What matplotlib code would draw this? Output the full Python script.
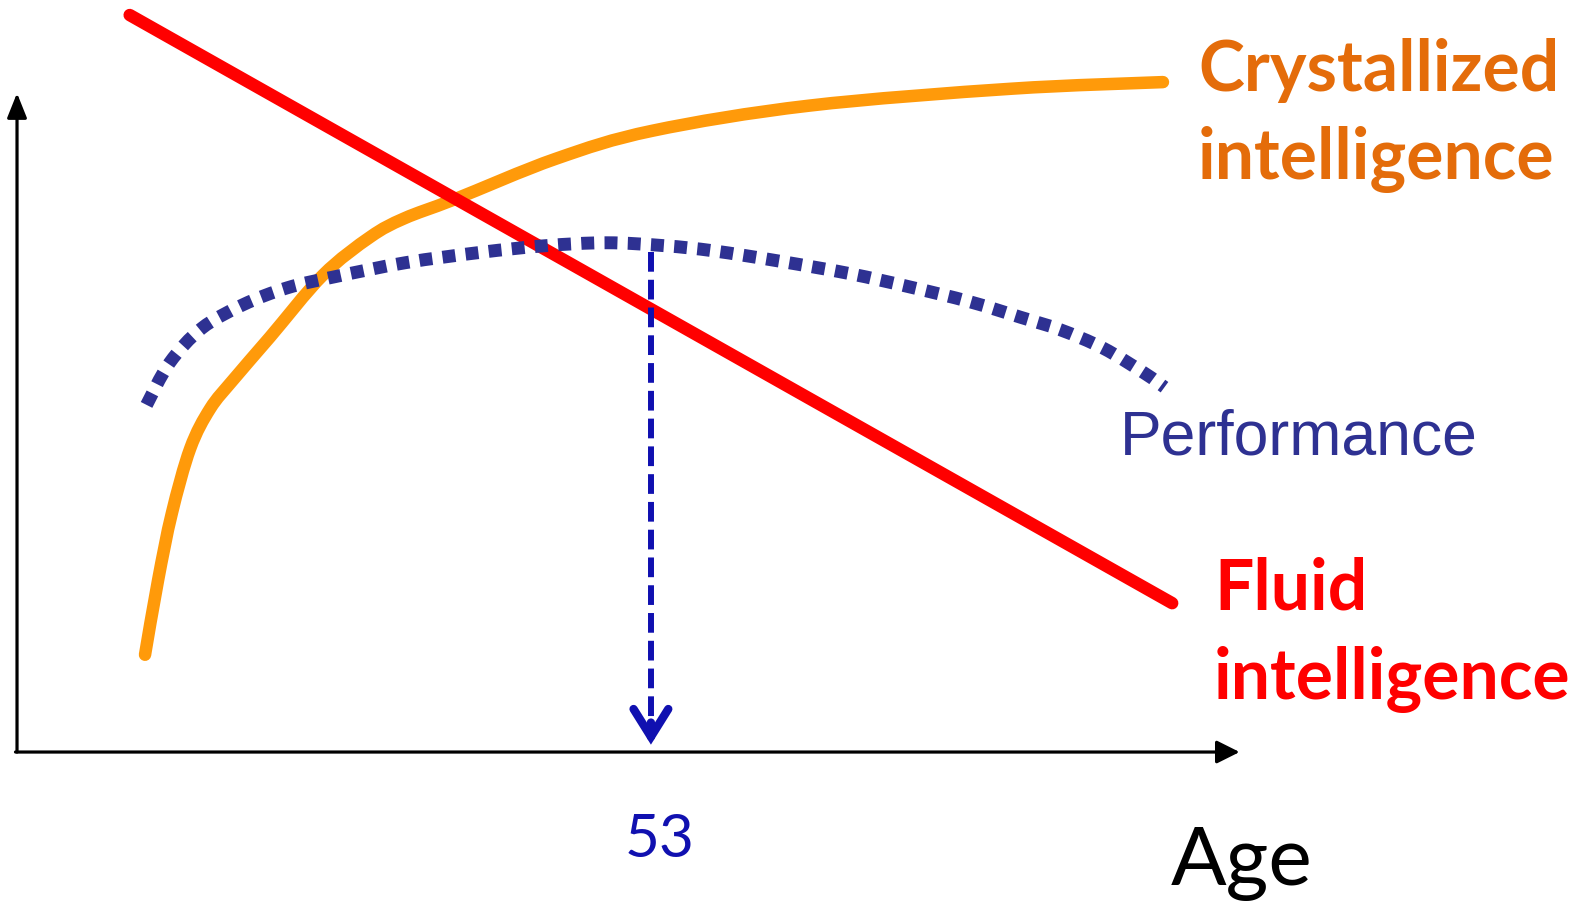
import matplotlib
matplotlib.use("Agg")
import matplotlib.pyplot as plt
from matplotlib.path import Path
from matplotlib.patches import PathPatch
import numpy as np

W, H, DPI = 1585, 911, 100

# Fluid intelligence: a steady decline with age
fluid_age = [19, 87]
fluid_level = [100, 20.2]

# Crystallized intelligence: fast early rise, then a slow climb
cryst_age = [20, 20.85, 21.75, 22.95, 24.25, 25.75, 28.15, 31.6, 34.7,
             36.9, 40.2, 46.8, 53.1, 63.3, 76.5, 86.4]
cryst_level = [13.2, 23.3, 32.4, 41.2, 46.6, 50.5, 56.3, 64.7, 69.9,
               72.4, 75.0, 80.5, 84.3, 87.7, 90.0, 90.9]

# Overall performance: rises, peaks in midlife, then falls
perf_age = [20.1, 21.6, 23.7, 26.4, 29.3, 32.4, 37.0, 41.9, 46.1, 50.1,
            53.9, 57.1, 61.4, 66.0, 69.9, 73.8, 77.1, 79.7, 82.5, 85.2, 86.5]
perf_level = [47.1, 52.8, 57.5, 60.7, 63.0, 64.5, 66.4, 67.8, 68.7, 69.1,
              68.7, 68.0, 66.6, 64.9, 63.1, 61.1, 59.0, 57.3, 54.8, 51.4, 49.5]

PEAK_AGE = 53

labels_cryst = ["Crystallized", "intelligence"]
labels_fluid = ["Fluid", "intelligence"]
label_perf = "Performance"
label_x = "Age"

ORANGE_LINE = "#FF9A0A"
ORANGE_TEXT = "#E46C0A"
RED = "#FF0000"
NAVY = "#2E3192"
BLUE = "#1010B0"

fig = plt.figure(figsize=(W / DPI, H / DPI), dpi=DPI)
ax = fig.add_axes([0, 0, 1, 1])
ax.set_xlim(10.54, 113.93)
ax.set_ylim(-21.57, 102.04)
ax.axis("off")


def smooth_path(xs, ys):
    """Cubic Bezier path passing through every (x, y) point (Catmull-Rom)."""
    p = np.column_stack([xs, ys]).astype(float)
    ext = np.vstack([p[0], p, p[-1]])
    verts = [p[0]]
    codes = [Path.MOVETO]
    for i in range(1, len(ext) - 2):
        p0, p1, p2, p3 = ext[i - 1], ext[i], ext[i + 1], ext[i + 2]
        verts += [p1 + (p2 - p0) / 6, p2 - (p3 - p1) / 6, p2]
        codes += [Path.CURVE4] * 3
    return Path(verts, codes)


# Axes drawn as arrows
axis_age = 11.65
ax.annotate("", xy=(axis_age, 89.4), xytext=(axis_age, 0),
            arrowprops=dict(arrowstyle="-|>,head_length=1.5,head_width=0.6",
                            lw=2.3, color="black", shrinkA=0, shrinkB=0,
                            mutation_scale=10))
ax.annotate("", xy=(91.4, 0), xytext=(axis_age - 0.1, 0),
            arrowprops=dict(arrowstyle="-|>,head_length=1.4,head_width=0.7",
                            lw=2.3, color="black", shrinkA=0, shrinkB=0,
                            mutation_scale=10))

ax.add_patch(PathPatch(smooth_path(cryst_age, cryst_level), fill=False,
                       edgecolor=ORANGE_LINE, lw=9, capstyle="round",
                       joinstyle="round", zorder=2))
ax.plot(fluid_age, fluid_level, color=RED, lw=9,
        solid_capstyle="round", zorder=3)
ax.add_patch(PathPatch(smooth_path(perf_age, perf_level), fill=False,
                       edgecolor=NAVY, lw=9.3, linestyle=(0, (1, 0.8)),
                       capstyle="butt", zorder=4))

# Dashed drop line from the performance peak to the age axis
peak_level = np.interp(PEAK_AGE, perf_age, perf_level) - 1.0
tip_level = 1.0
ax.plot([PEAK_AGE, PEAK_AGE], [peak_level, tip_level + 3], color=BLUE,
        lw=4.3, linestyle=(0, (3.3, 1.35)), dash_capstyle="butt", zorder=5)
ax.annotate("", xy=(PEAK_AGE, tip_level), xytext=(PEAK_AGE, tip_level + 3),
            arrowprops=dict(arrowstyle="->,head_length=2.0,head_width=1.25",
                            lw=6, color=BLUE, shrinkA=0, shrinkB=0,
                            mutation_scale=10, capstyle="round",
                            joinstyle="miter"), zorder=5)

renderer = fig.canvas.get_renderer()


def fit_width(t, width_px):
    w = t.get_window_extent(renderer=renderer).width
    t.set_fontsize(t.get_fontsize() * width_px / w)
    return t.get_fontsize()


def put(x_px, base_px, s, **kw):
    return fig.text(x_px / W, 1 - base_px / H, s, va="baseline", ha="left", **kw)


bold = dict(family="Lato", fontweight="bold", fontsize=50)
t_ci = put(1198, 179, labels_cryst[1], color=ORANGE_TEXT, **bold)
size = fit_width(t_ci, 357)
put(1198, 91, labels_cryst[0], color=ORANGE_TEXT,
    family="Lato", fontweight="bold", fontsize=size)
put(1214, 610, labels_fluid[0], color=RED,
    family="Lato", fontweight="bold", fontsize=size)
put(1214, 699, labels_fluid[1], color=RED,
    family="Lato", fontweight="bold", fontsize=size)

t_perf = put(1120, 455, label_perf, color=NAVY,
             family="Liberation Sans", fontsize=45)
fit_width(t_perf, 358)

t_age = put(1171, 885, label_x, color="black", family="Lato", fontsize=55)
fit_width(t_age, 142)

t53 = ax.annotate(str(PEAK_AGE), xy=(PEAK_AGE, 0),
                  xycoords=("data", "figure pixels"),
                  xytext=(9, H - 857), textcoords=("offset pixels", "figure pixels"),
                  ha="center", va="baseline", color=BLUE,
                  family="Lato", fontsize=45)
fit_width(t53, 70)

fig.savefig("out.png", dpi=DPI, facecolor="white")
